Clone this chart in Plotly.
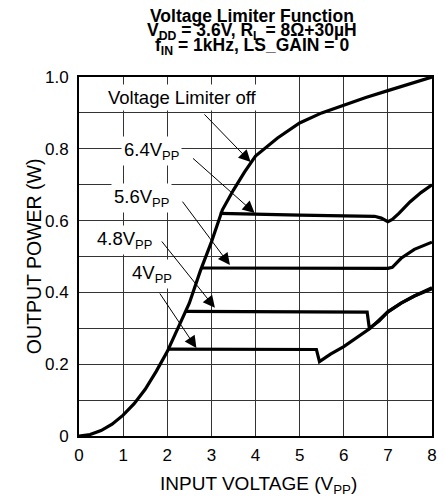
import plotly.graph_objects as go

# Voltage limiter off (main curve)
off_x = [0, 0.25, 0.5, 0.75, 1.0, 1.25, 1.5, 1.75, 2.0, 2.25, 2.5, 2.75, 3.0, 3.25, 3.5, 3.75,
         4.0, 4.5, 5.0, 5.5, 6.0, 6.5, 7.0, 7.5, 8.0]
off_y = [0, 0.004, 0.015, 0.033, 0.058, 0.09, 0.13, 0.18, 0.235, 0.30, 0.37, 0.46, 0.54, 0.63,
         0.685, 0.735, 0.78, 0.83, 0.872, 0.90, 0.922, 0.943, 0.962, 0.98, 1.0]

# limited curves
v64_x = [3.19, 3.5, 4, 5, 6, 6.7, 6.85, 7.0, 7.1, 7.25, 7.5, 7.75, 8.0]
v64_y = [0.62, 0.619, 0.617, 0.615, 0.613, 0.612, 0.607, 0.597, 0.603, 0.62, 0.652, 0.678, 0.70]

v56_x = [2.77, 3, 4, 5, 6, 7.0, 7.1, 7.3, 7.6, 8.0]
v56_y = [0.468, 0.468, 0.467, 0.468, 0.467, 0.467, 0.47, 0.495, 0.52, 0.54]

v48_x = [2.41, 3, 4, 5, 6, 6.53, 6.58, 6.8, 7.0, 7.3, 7.6, 8.0]
v48_y = [0.347, 0.347, 0.346, 0.346, 0.345, 0.345, 0.30, 0.32, 0.346, 0.37, 0.39, 0.41]

v40_x = [2.0, 2.5, 3, 4, 5, 5.38, 5.45, 5.7, 6.0, 6.3, 6.6, 7.0, 7.3, 7.6, 8.0]
v40_y = [0.242, 0.242, 0.242, 0.241, 0.241, 0.241, 0.207, 0.228, 0.249, 0.275, 0.30, 0.346, 0.37, 0.39, 0.413]

# labels: text, text centre (x, y), arrow tail (x, y), arrow head (x, y)
labels = ["Voltage Limiter off", "6.4V<sub>PP</sub>", "5.6V<sub>PP</sub>", "4.8V<sub>PP</sub>", "4V<sub>PP</sub>"]
label_pos = [(2.35, 0.944), (1.65, 0.795), (1.42, 0.663), (1.03, 0.546), (1.65, 0.452)]
arrow_tail = [(2.81, 0.90), (2.55, 0.777), (2.32, 0.657), (1.85, 0.546), (1.81, 0.401)]
arrow_head = [(3.89, 0.763), (3.98, 0.621), (3.42, 0.476), (3.08, 0.357), (2.66, 0.245)]

y_ticks = [round(i * 0.1, 1) for i in range(11)]
y_ticktext = ["0", "", "0.2", "", "0.4", "", "0.6", "", "0.8", "", "1.0"]

FONT = "Liberation Sans, Arial, sans-serif"

fig = go.Figure()
for xs, ys in [(off_x, off_y), (v64_x, v64_y), (v56_x, v56_y), (v48_x, v48_y), (v40_x, v40_y)]:
    fig.add_trace(go.Scatter(x=xs, y=ys, mode="lines", line=dict(color="black", width=3.2),
                             showlegend=False, hoverinfo="skip"))

# arrows
for (tx, ty), (hx, hy) in zip(arrow_tail, arrow_head):
    fig.add_annotation(x=hx, y=hy, ax=tx, ay=ty, xref="x", yref="y", axref="x", ayref="y",
                       text="", showarrow=True, arrowhead=2, arrowsize=2.4, arrowwidth=1,
                       arrowcolor="black")

# labels with white boxes to break the grid
for txt, (lx, ly) in zip(labels, label_pos):
    fig.add_annotation(x=lx, y=ly, xref="x", yref="y", text=txt, showarrow=False,
                       bgcolor="white", borderpad=2, font=dict(family=FONT, size=18.5, color="black"))

# title lines (separate annotations, tighter than plotly's line height)
titles = ["<b>Voltage Limiter Function</b>",
          "<b>V<sub>DD</sub> = 3.6V, R<sub>L</sub> = 8Ω+30µH</b>",
          "<b>f<sub>IN</sub> = 1kHz, LS_GAIN = 0</b>"]
title_y = [1.170, 1.128, 1.085]
for txt, ty in zip(titles, title_y):
    fig.add_annotation(x=0.49, y=ty, xref="paper", yref="paper", text=txt, showarrow=False,
                       yanchor="middle", font=dict(family=FONT, size=17.5, color="black"))

# axis titles
fig.add_annotation(x=0.508, y=-0.136, xref="paper", yref="paper", text="INPUT VOLTAGE (V<sub>PP</sub>)",
                   showarrow=False, yanchor="middle", font=dict(family=FONT, size=19, color="black"))
fig.add_annotation(x=-0.165, y=0.5, xref="paper", yref="paper", text="OUTPUT POWER (W)",
                   textangle=-90, showarrow=False, font=dict(family=FONT, size=19.5, color="black"))

fig.update_xaxes(range=[0, 8], tickvals=list(range(9)), showgrid=True, gridcolor="#333",
                 gridwidth=1, showline=True, mirror=True, linecolor="black", linewidth=2,
                 ticks="outside", ticklen=3, tickcolor="rgba(0,0,0,0)", zeroline=False,
                 tickfont=dict(family=FONT, size=17, color="black"))
fig.update_yaxes(range=[0, 1], tickvals=y_ticks, ticktext=y_ticktext, showgrid=True,
                 gridcolor="#333", gridwidth=1, showline=True, mirror=True, linecolor="black",
                 linewidth=2, ticks="outside", ticklen=5, tickcolor="rgba(0,0,0,0)", zeroline=False,
                 tickfont=dict(family=FONT, size=17, color="black"))

# page body has an 8px margin, so the figure is sized to fit inside the window
fig.update_layout(width=437, height=490, margin=dict(l=71, r=8, t=69, b=62),
                  plot_bgcolor="white", paper_bgcolor="white")

fig.write_html("out.html")
